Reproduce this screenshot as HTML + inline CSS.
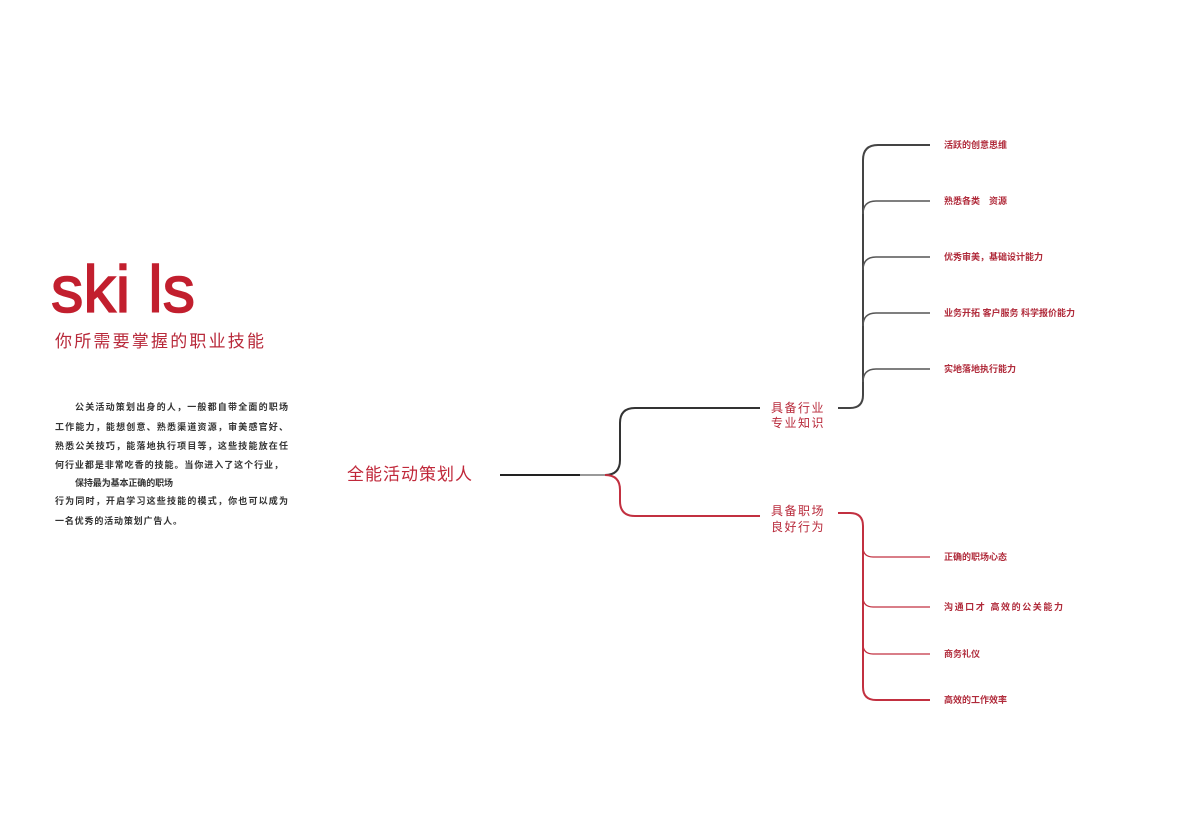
<!DOCTYPE html>
<html><head><meta charset="utf-8"><style>
body{margin:0;background:#fff;width:1200px;height:820px;overflow:hidden}
svg text{font-family:"Liberation Sans","Noto Sans CJK SC",sans-serif}
</style></head><body>
<svg width="1200" height="820" viewBox="0 0 1200 820" xmlns="http://www.w3.org/2000/svg">
<text x="51" y="312" font-size="66" fill="#c21f2e" stroke="#c21f2e" stroke-width="1.5" textLength="144" lengthAdjust="spacingAndGlyphs">ski ls</text>
<text x="55" y="347" font-size="17" fill="#b8293a" textLength="210" letter-spacing="1">你所需要掌握的职业技能</text>
<g font-size="9" font-weight="bold" fill="#333" lengthAdjust="spacing">
<text x="75" y="410" textLength="213">公关活动策划出身的人，一般都自带全面的职场</text>
<text x="55" y="430" textLength="233">工作能力，能想创意、熟悉渠道资源，审美感官好、</text>
<text x="55" y="449" textLength="233">熟悉公关技巧，能落地执行项目等，这些技能放在任</text>
<text x="55" y="468" textLength="228">何行业都是非常吃香的技能。当你进入了这个行业，</text>
<text x="75" y="486" textLength="98">保持最为基本正确的职场</text>
<text x="55" y="504" textLength="233">行为同时，开启学习这些技能的模式，你也可以成为</text>
<text x="55" y="524" textLength="127">一名优秀的活动策划广告人。</text>
</g>
<text x="347" y="480" font-size="17" fill="#c0283a" letter-spacing="1">全能活动策划人</text>
<g fill="none" stroke-width="2">
<path d="M500 475H580" stroke="#222"/>
<path d="M580 475H605" stroke="#999"/>
<path d="M605 475Q620 475 620 460V423Q620 408 635 408H760" stroke="#333"/>
<path d="M605 475Q620 475 620 490V501Q620 516 635 516H760" stroke="#c23040"/>
<path d="M838 408H850Q863 408 863 395V160Q863 145 878 145H930" stroke="#444"/>
<path d="M863 214Q863 201 876 201H930M863 270Q863 257 876 257H930M863 326Q863 313 876 313H930M863 382Q863 369 876 369H930" stroke="#555" stroke-width="1.5"/>
<path d="M838 513H850Q863 513 863 526V687Q863 700 876 700H930" stroke="#c23040"/>
<path d="M863 547Q863 557 873 557H930M863 597Q863 607 873 607H930M863 644Q863 654 873 654H930" stroke="#c23040" stroke-width="1.2"/>
</g>
<g font-size="12" fill="#b8293a" letter-spacing="1.5">
<text x="771" y="412">具备行业</text>
<text x="771" y="427">专业知识</text>
<text x="771" y="515">具备职场</text>
<text x="771" y="531">良好行为</text>
</g>
<g font-size="9" font-weight="bold" fill="#b02a3a">
<text x="944" y="148">活跃的创意思维</text>
<text x="944" y="204">熟悉各类　资源</text>
<text x="944" y="260">优秀审美，基础设计能力</text>
<text x="944" y="316">业务开拓 客户服务 科学报价能力</text>
<text x="944" y="372">实地落地执行能力</text>
<text x="944" y="560">正确的职场心态</text>
<text x="944" y="610" textLength="119">沟通口才 高效的公关能力</text>
<text x="944" y="657">商务礼仪</text>
<text x="944" y="703">高效的工作效率</text>
</g>
</svg>
</body></html>
